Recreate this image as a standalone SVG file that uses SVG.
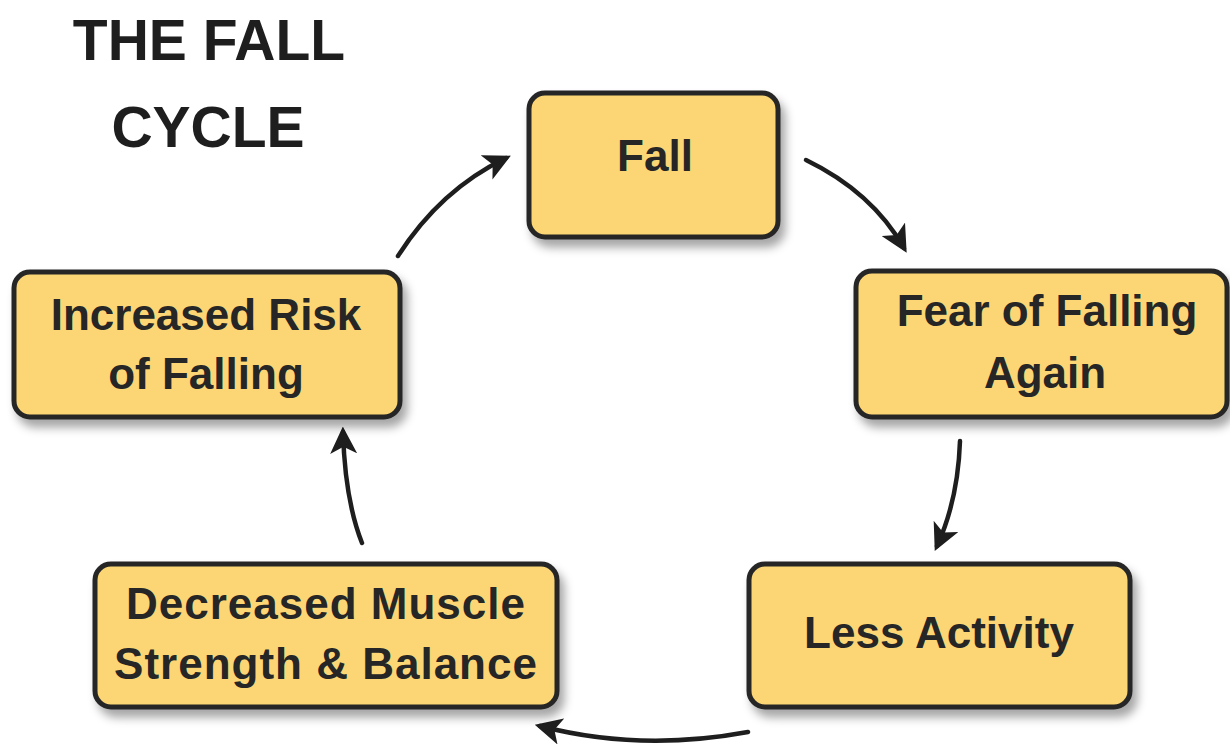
<svg xmlns="http://www.w3.org/2000/svg" width="1230" height="746" viewBox="0 0 1230 746">
<style>
.box{fill:#FCD675;stroke:#262626;stroke-width:5}
.lbl{font-family:"Liberation Sans",Arial,sans-serif;font-weight:bold;font-size:44px;fill:#262626;text-anchor:middle}
.title{font-family:"Liberation Sans",Arial,sans-serif;font-weight:bold;font-size:57px;fill:#1e1e1e;text-anchor:middle}
.arr{fill:none;stroke:#1e1e1e;stroke-width:4.5;stroke-linecap:round}
</style>
<defs>
<filter id="sh" x="-10%" y="-10%" width="125%" height="135%">
<feDropShadow dx="5" dy="8" stdDeviation="5" flood-color="#000" flood-opacity="0.35"/>
</filter>
<marker id="ah" viewBox="0 0 10 10" refX="8" refY="5" markerWidth="6" markerHeight="6" markerUnits="strokeWidth" orient="auto">
<path d="M0,0 L10,5 L0,10 L2.5,5 Z" fill="#1e1e1e"/>
</marker>
</defs>
<rect width="1230" height="746" fill="#ffffff"/>
<g id="title">
<text class="title" x="209" y="60">THE FALL</text>
<text class="title" x="208" y="147">CYCLE</text>
</g>
<g id="connectors">
<path class="arr" d="M398,256 Q440,190 506,158" marker-end="url(#ah)"/>
<path class="arr" d="M806,160 Q872,192 904,248" marker-end="url(#ah)"/>
<path class="arr" d="M960,441 Q958,500 937,546" marker-end="url(#ah)"/>
<path class="arr" d="M748,732 Q640,752 540,726" marker-end="url(#ah)"/>
<path class="arr" d="M362,543 Q345,500 343,432" marker-end="url(#ah)"/>
</g>
<g id="n-fall">
<rect class="box" filter="url(#sh)" x="529" y="93" width="249" height="144" rx="16"/>
<text class="lbl" x="655" y="171">Fall</text>
</g>
<g id="n-fear">
<rect class="box" filter="url(#sh)" x="856" y="271" width="371" height="146" rx="16"/>
<text class="lbl" x="1047" y="326">Fear of Falling</text>
<text class="lbl" x="1045" y="388">Again</text>
</g>
<g id="n-less">
<rect class="box" filter="url(#sh)" x="749" y="564" width="381" height="143" rx="16"/>
<text class="lbl" x="939" y="648">Less Activity</text>
</g>
<g id="n-decreased">
<rect class="box" filter="url(#sh)" x="95" y="564" width="462" height="143" rx="16"/>
<text class="lbl" x="326" y="619" letter-spacing="1">Decreased Muscle</text>
<text class="lbl" x="326" y="679" letter-spacing="1">Strength &amp; Balance</text>
</g>
<g id="n-increased">
<rect class="box" filter="url(#sh)" x="14" y="272" width="386" height="145" rx="16"/>
<text class="lbl" x="206" y="330">Increased Risk</text>
<text class="lbl" x="206" y="389">of Falling</text>
</g>
</svg>
